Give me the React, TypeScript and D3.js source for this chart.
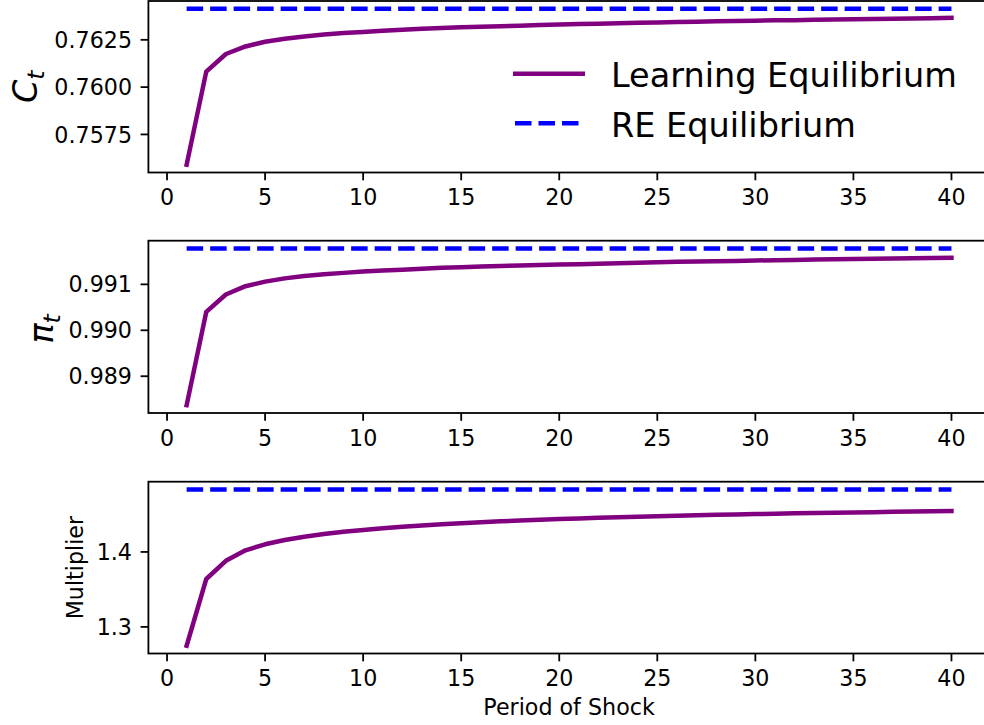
import React, { useEffect } from "react";
import * as d3 from "d3";

// Period index of the shock
const periods: number[] = d3.range(1, 41);

// Consumption path under learning vs. rational-expectations level
const consumptionLearning: number[] = [
  0.7559, 0.76082, 0.76175, 0.76215, 0.7624, 0.76256, 0.76268, 0.76278, 0.76286, 0.76292,
  0.76298, 0.76303, 0.76308, 0.76312, 0.76316, 0.76319, 0.76322, 0.76325, 0.76328, 0.76331,
  0.76333, 0.76335, 0.76337, 0.7634, 0.76342, 0.76344, 0.76346, 0.76348, 0.76349, 0.76351,
  0.76353, 0.76354, 0.76356, 0.76357, 0.76359, 0.7636, 0.76362, 0.76363, 0.76364, 0.76366,
];
const consumptionRE = 0.76414;

// Inflation path
const inflationLearning: number[] = [
  0.98837, 0.9904, 0.99078, 0.99096, 0.99106, 0.99113, 0.99118, 0.99122, 0.99125, 0.99128,
  0.9913, 0.99132, 0.99134, 0.99136, 0.991375, 0.99139, 0.9914, 0.99141, 0.99142, 0.991435,
  0.99144, 0.99145, 0.99146, 0.99147, 0.99148, 0.99149, 0.9915, 0.991505, 0.99151, 0.99152,
  0.991525, 0.99153, 0.99154, 0.991545, 0.99155, 0.99156, 0.991565, 0.99157, 0.991575, 0.99158,
];
const inflationRE = 0.99178;

// Fiscal multiplier path
const multiplierLearning: number[] = [
  1.2749, 1.3639, 1.3881, 1.4022, 1.4102, 1.416, 1.4203, 1.4238, 1.4268, 1.4293,
  1.4315, 1.4335, 1.4353, 1.4369, 1.4383, 1.4396, 1.4408, 1.4419, 1.4429, 1.4438,
  1.4447, 1.4455, 1.4463, 1.447, 1.4477, 1.4483, 1.4489, 1.4495, 1.45, 1.4505,
  1.451, 1.4515, 1.4519, 1.4523, 1.4527, 1.4531, 1.4535, 1.4539, 1.4542, 1.4546,
];
const multiplierRE = 1.4833;

const xTicks: number[] = [0, 5, 10, 15, 20, 25, 30, 35, 40];
const consumptionTicks: number[] = [0.7575, 0.76, 0.7625];
const inflationTicks: number[] = [0.989, 0.99, 0.991];
const multiplierTicks: number[] = [1.3, 1.4];

const legendLabels: string[] = ["Learning Equilibrium", "RE Equilibrium"];

const W = 984;
const H = 725;
const LEFT = 148.4;
const RIGHT = 989.7;
const FONT = "'DejaVu Sans', sans-serif";
const PURPLE = "#800080";
const BLUE = "#0000ff";
const LW = 4.5;
const TICK_FS = 22.2;
const BIG_FS = 33.5;
const TICK_LEN = 7.8;
const SPINE = 1.8;

type Panel = {
  top: number;
  bottom: number;
  learning: number[];
  re: number;
  ticks: number[];
  fmt: (v: number) => string;
};

const panels: Panel[] = [
  { top: 1, bottom: 172.5, learning: consumptionLearning, re: consumptionRE, ticks: consumptionTicks, fmt: d3.format(".4f") },
  { top: 240.7, bottom: 413, learning: inflationLearning, re: inflationRE, ticks: inflationTicks, fmt: d3.format(".3f") },
  { top: 481.7, bottom: 653.5, learning: multiplierLearning, re: multiplierRE, ticks: multiplierTicks, fmt: d3.format(".1f") },
];

function padded(lo: number, hi: number): [number, number] {
  const m = (hi - lo) * 0.05;
  return [lo - m, hi + m];
}

const x = d3.scaleLinear().domain(padded(1, 40)).range([LEFT, RIGHT]);

function PanelView({ p, idx }: { p: Panel; idx: number }) {
  const all = [...p.learning, p.re];
  const y = d3.scaleLinear().domain(padded(d3.min(all)!, d3.max(all)!)).range([p.bottom, p.top]);
  const line = d3
    .line<number>()
    .x((_, i) => x(periods[i]))
    .y((d) => y(d));
  const reLine = d3
    .line<number>()
    .x((d) => x(d))
    .y(() => y(p.re));
  return (
    <g>
      <defs>
        <clipPath id={`clip${idx}`}>
          <rect x={LEFT} y={p.top} width={RIGHT - LEFT} height={p.bottom - p.top} />
        </clipPath>
      </defs>
      <g clipPath={`url(#clip${idx})`}>
        <path d={line(p.learning)!} fill="none" stroke={PURPLE} strokeWidth={LW} strokeLinejoin="round" strokeLinecap="square" />
        <path d={reLine([1, 40])!} fill="none" stroke={BLUE} strokeWidth={LW} strokeDasharray="16.5,7" strokeLinecap="butt" />
      </g>
      <rect x={LEFT} y={p.top} width={RIGHT - LEFT} height={p.bottom - p.top} fill="none" stroke="#000" strokeWidth={SPINE} />
      {xTicks.map((t) => (
        <g key={`x${t}`}>
          <line x1={x(t)} x2={x(t)} y1={p.bottom} y2={p.bottom + TICK_LEN} stroke="#000" strokeWidth={SPINE} />
          <text x={x(t)} y={p.bottom + 32.6} textAnchor="middle" fontFamily={FONT} fontSize={TICK_FS}>
            {t}
          </text>
        </g>
      ))}
      {p.ticks.map((t) => (
        <g key={`y${t}`}>
          <line x1={LEFT - TICK_LEN} x2={LEFT} y1={y(t)} y2={y(t)} stroke="#000" strokeWidth={SPINE} />
          <text x={132} y={y(t) + 8.1} textAnchor="end" fontFamily={FONT} fontSize={TICK_FS}>
            {p.fmt(t)}
          </text>
        </g>
      ))}
    </g>
  );
}

export default function App() {
  useEffect(() => {
    document.body.style.margin = "0";
  }, []);
  const c1 = (panels[0].top + panels[0].bottom) / 2;
  const c2 = (panels[1].top + panels[1].bottom) / 2;
  const c3 = (panels[2].top + panels[2].bottom) / 2;
  return (
    <svg width={W} height={H} style={{ display: "block", background: "#fff" }}>
      {panels.map((p, i) => (
        <PanelView key={i} p={p} idx={i} />
      ))}
      {/* y-axis labels */}
      <text transform={`translate(37,${c1}) rotate(-90)`} textAnchor="middle" fontFamily={FONT} fontSize={BIG_FS}>
        <tspan fontStyle="italic">C</tspan>
        <tspan fontStyle="italic" fontSize={23.5} dy={7}>t</tspan>
      </text>
      <text transform={`translate(53,${c2 + 2}) rotate(-90)`} textAnchor="middle" fontFamily={FONT} fontSize={BIG_FS}>
        <tspan fontStyle="italic">π</tspan>
        <tspan fontStyle="italic" fontSize={23.5} dy={7}>t</tspan>
      </text>
      <text transform={`translate(83,${c3}) rotate(-90)`} textAnchor="middle" fontFamily={FONT} fontSize={TICK_FS}>
        Multiplier
      </text>
      {/* x-axis label */}
      <text x={(LEFT + RIGHT) / 2} y={715} textAnchor="middle" fontFamily={FONT} fontSize={TICK_FS}>
        Period of Shock
      </text>
      {/* legend */}
      <g>
        <line x1={513} x2={585} y1={73.7} y2={73.7} stroke={PURPLE} strokeWidth={LW} />
        <text x={611} y={86.7} fontFamily={FONT} fontSize={BIG_FS}>
          {legendLabels[0]}
        </text>
        <line x1={515} x2={585} y1={123.3} y2={123.3} stroke={BLUE} strokeWidth={LW} strokeDasharray="16.5,7" />
        <text x={611} y={136.7} fontFamily={FONT} fontSize={BIG_FS}>
          {legendLabels[1]}
        </text>
      </g>
    </svg>
  );
}
